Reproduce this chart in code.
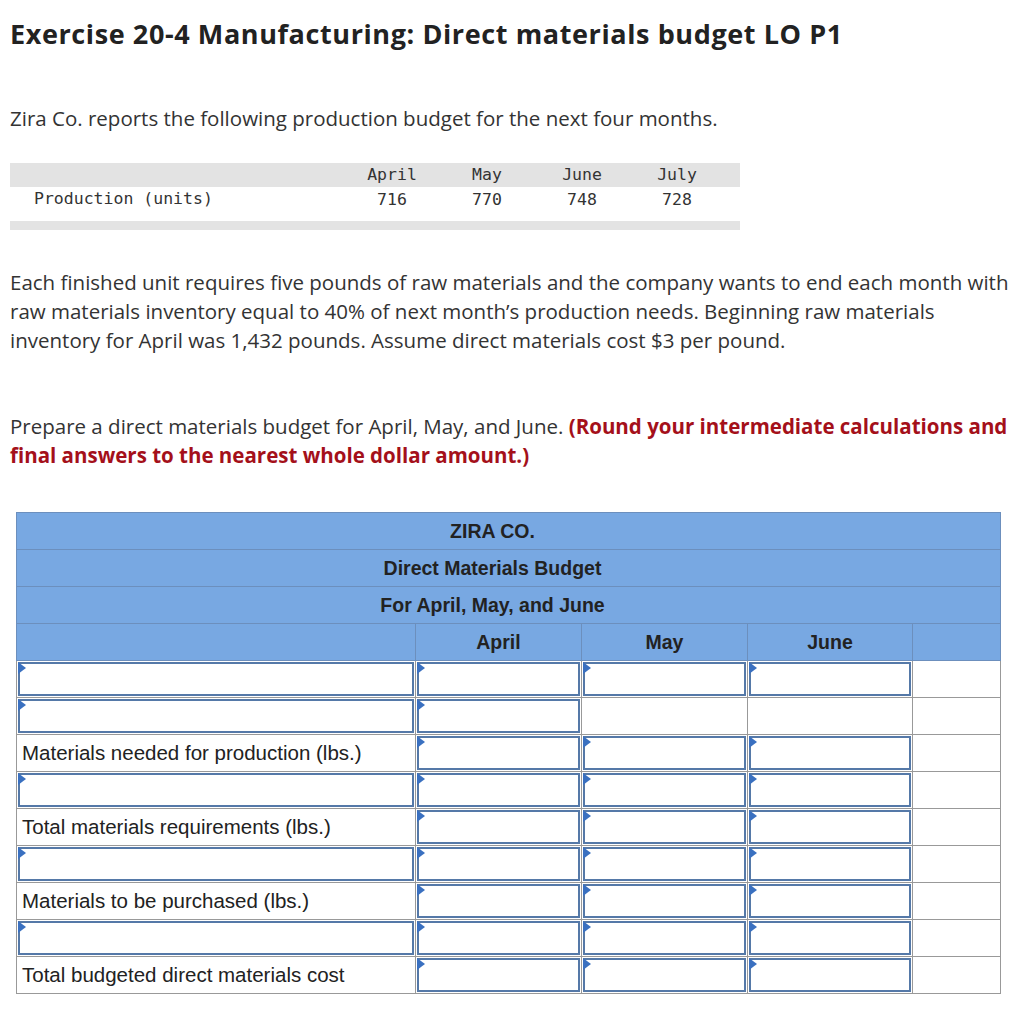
<!DOCTYPE html>
<html><head><meta charset="utf-8">
<script src="https://cdn.jsdelivr.net/npm/chart.js@4"></script>
<style>
body{margin:0;background:#fff;font-family:"Open Sans",Lato,sans-serif;color:#222;}
.abs{position:absolute}
h1{position:absolute;left:10px;top:15px;margin:0;font-size:27px;letter-spacing:0.6px;font-weight:700;font-family:"Open Sans",Lato,sans-serif;color:#222}
.p{font-size:20.5px;line-height:29px;left:10px;width:1000px;color:#333;font-family:"Open Sans",sans-serif}
.mono{font-family:"DejaVu Sans Mono","Liberation Mono",monospace;font-size:16.5px;color:#333}
.red{color:#a4101a;font-weight:700}
#bt{position:absolute;left:16px;top:512px;border-collapse:collapse;font-family:"Liberation Sans",Arial,sans-serif;font-size:19.5px}
#bt td{border:1px solid #999;height:36px;padding:0;position:relative}
#bt tr.h td{background:#78a8e2;font-weight:700;text-align:center;color:#222;border-color:#6c8fbd}
.box{position:absolute;left:1px;top:1px;right:1px;bottom:1px;border:2px solid #5579a8}
.tri{position:absolute;left:1px;top:1px;width:0;height:0;border-top:6px solid transparent;border-bottom:6px solid transparent;border-left:8px solid #3a70c0}
.lbl{padding-left:5px!important;font-size:20.5px}
</style></head><body>
<h1>Exercise 20-4 Manufacturing: Direct materials budget LO P1</h1>
<div class="abs p" style="top:104px">Zira Co. reports the following production budget for the next four months.</div>
<div class="abs" style="left:10px;top:163px;width:730px;height:24px;background:#e3e3e3"></div>
<div class="abs" style="left:10px;top:221px;width:730px;height:9px;background:#e3e3e3"></div>
<div class="abs mono" style="left:34px;top:189px">Production (units)</div>
<div id="prod"></div>
<div class="abs p" style="top:268px">Each finished unit requires five pounds of raw materials and the company wants to end each month with raw materials inventory equal to 40% of next month’s production needs. Beginning raw materials inventory for April was 1,432 pounds. Assume direct materials cost $3 per pound.</div>
<div class="abs p" style="top:412px">Prepare a direct materials budget for April, May, and June. <span class="red">(Round your intermediate calculations and final answers to the nearest whole dollar amount.)</span></div>
<table id="bt"></table>
<script>
const months=["April","May","June","July"];
const production=[716,770,748,728];
const monthCenters=[392,487,582,677];
const budgetTitles=["ZIRA CO.","Direct Materials Budget","For April, May, and June"];
const budgetMonths=["April","May","June"];
const rowLabels=["","","Materials needed for production (lbs.)","","Total materials requirements (lbs.)","","Materials to be purchased (lbs.)","","Total budgeted direct materials cost"];
let h="";
months.forEach((m,i)=>{h+=`<div class="abs mono" style="left:${monthCenters[i]-40}px;width:80px;text-align:center;top:165px">${m}</div><div class="abs mono" style="left:${monthCenters[i]-40}px;width:80px;text-align:center;top:190px">${production[i]}</div>`});
document.getElementById('prod').innerHTML=h;
const W=[399,166,166,165,88];
let t="<colgroup>"+W.map(w=>`<col style="width:${w}px">`).join("")+"</colgroup>";
budgetTitles.forEach(s=>{t+=`<tr class="h"><td colspan="5"><span style="position:relative;left:-16px">${s}</span></td></tr>`});
t+=`<tr class="h"><td></td>${budgetMonths.map(m=>`<td>${m}</td>`).join("")}<td></td></tr>`;
rowLabels.forEach((l,r)=>{
 const lab=l?`<td class="lbl">${l}</td>`:`<td><div class="box"></div><div class="tri"></div></td>`;
 let cells="";
 for(let c=0;c<3;c++){const skip=(r===1&&c>0);cells+=skip?`<td></td>`:`<td><div class="box"></div><div class="tri"></div></td>`;}
 t+=`<tr>${lab}${cells}<td></td></tr>`;
});
const bt=document.getElementById('bt');bt.innerHTML=t;bt.style.width="984px";bt.style.tableLayout="fixed";
</script>
</body></html>
